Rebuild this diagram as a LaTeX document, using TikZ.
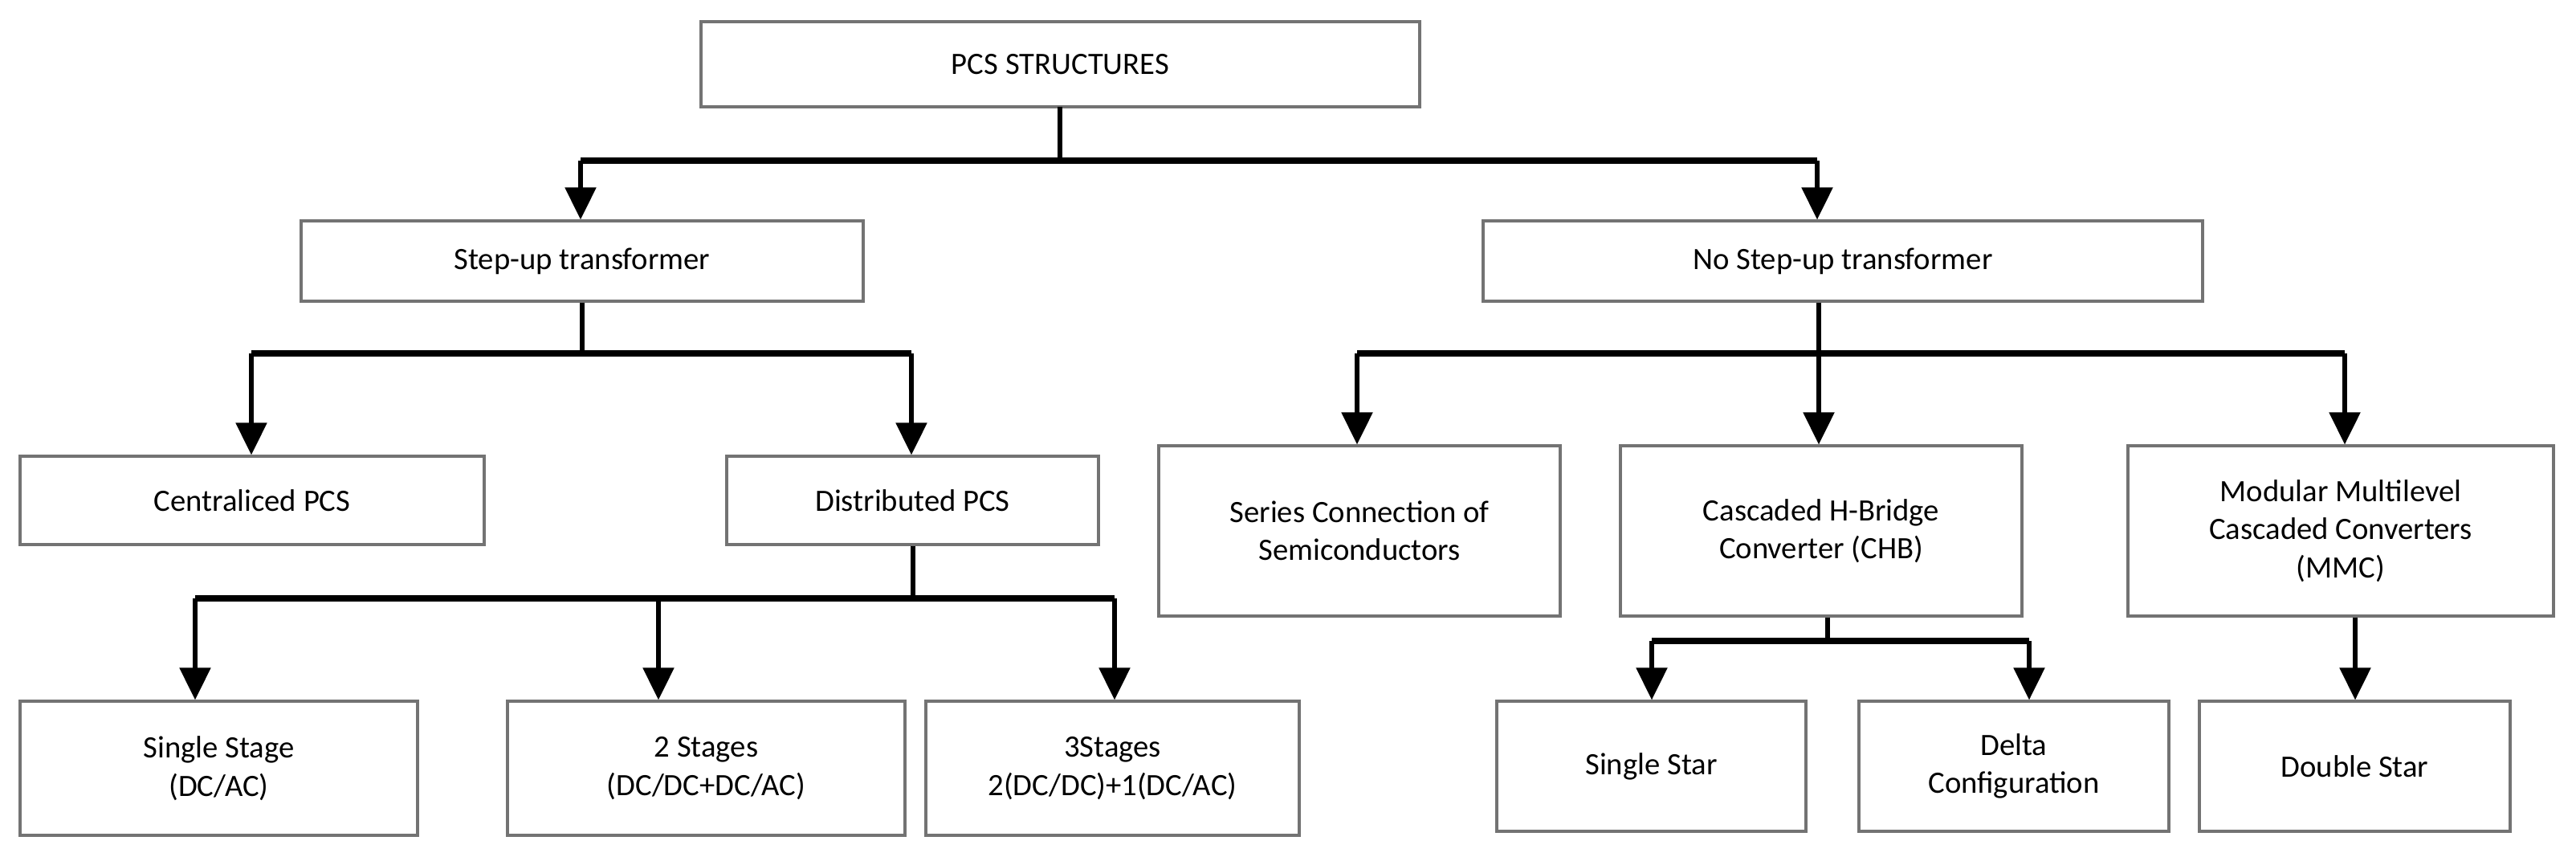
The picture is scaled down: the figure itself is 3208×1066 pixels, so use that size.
\documentclass[tikz,border=0pt]{standalone}
\usepackage{fontspec}
\setmainfont{Carlito}
\usetikzlibrary{arrows.meta}
\begin{document}
\begin{tikzpicture}[x=0.01cm,y=-0.01cm,
  box/.style={draw=black!55,line width=0.9pt,fill=white,inner sep=0pt,font=\fontsize{11}{13.5}\selectfont,align=center},
  con/.style={line width=1.5pt},
  bar/.style={line width=2.2pt},
  arr/.style={line width=1.5pt,-{Triangle[length=0.4cm,width=0.38cm]}}]
\useasboundingbox (0,0) rectangle (3208,1066);
\def\bx#1#2#3#4#5#6{\node[box,minimum width={(#4-#2)*0.01cm},minimum height={(#5-#3)*0.01cm}] (#1) at ({(#2+#4)/2},{(#3+#5)/2}) {#6};}
\bx{root}{873}{27}{1768}{133}{PCS STRUCTURES}
\bx{su}{375}{275}{1075}{375}{Step-up transformer}
\bx{nsu}{1847}{275}{2743}{375}{No Step-up transformer}
\bx{cen}{25}{568}{603}{678}{Centraliced PCS}
\bx{dis}{905}{568}{1368}{678}{Distributed PCS}
\bx{s1}{25}{873}{520}{1040}{Single Stage\\(DC/AC)}
\bx{s2}{632}{873}{1127}{1040}{2 Stages\\(DC/DC+DC/AC)}
\bx{s3}{1153}{873}{1618}{1040}{3Stages\\2(DC/DC)+1(DC/AC)}
\bx{ser}{1443}{555}{1943}{767}{Series Connection of\\Semiconductors}
\bx{chb}{2018}{555}{2518}{767}{Cascaded H-Bridge\\Converter (CHB)}
\bx{mmc}{2650}{555}{3180}{767}{Modular Multilevel\\Cascaded Converters\\(MMC)}
\bx{ss}{1864}{873}{2249}{1035}{Single Star}
\bx{del}{2315}{873}{2701}{1035}{Delta\\Configuration}
\bx{ds}{2739}{873}{3126}{1035}{Double Star}
% root
\coordinate (r1) at (1320,200);
\draw[con] (1320,133) -- (r1);
\draw[bar] (723,200) -- (2263,200);
\draw[arr] (723,200) -- (su.north -| 723,0);
\draw[arr] (2263,200) -- (nsu.north -| 2263,0);
% step-up
\draw[con] (su.south -| 725,0) -- (725,440);
\draw[bar] (313,440) -- (1135,440);
\draw[arr] (313,440) -- (cen.north -| 313,0);
\draw[arr] (1135,440) -- (dis.north -| 1135,0);
% distributed
\draw[con] (dis.south -| 1137,0) -- (1137,745);
\draw[bar] (243,745) -- (1388,745);
\draw[arr] (243,745) -- (s1.north -| 243,0);
\draw[arr] (820,745) -- (s2.north -| 820,0);
\draw[arr] (1388,745) -- (s3.north -| 1388,0);
% no step-up
\draw[con] (nsu.south -| 2265,0) -- (2265,440);
\draw[bar] (1690,440) -- (2920,440);
\draw[arr] (1690,440) -- (ser.north -| 1690,0);
\draw[arr] (2265,440) -- (chb.north -| 2265,0);
\draw[arr] (2920,440) -- (mmc.north -| 2920,0);
% chb
\draw[con] (chb.south -| 2276,0) -- (2276,798);
\draw[bar] (2057,798) -- (2527,798);
\draw[arr] (2057,798) -- (ss.north -| 2057,0);
\draw[arr] (2527,798) -- (del.north -| 2527,0);
% mmc
\draw[arr] (mmc.south -| 2933,0) -- (ds.north -| 2933,0);
\end{tikzpicture}
\end{document}
